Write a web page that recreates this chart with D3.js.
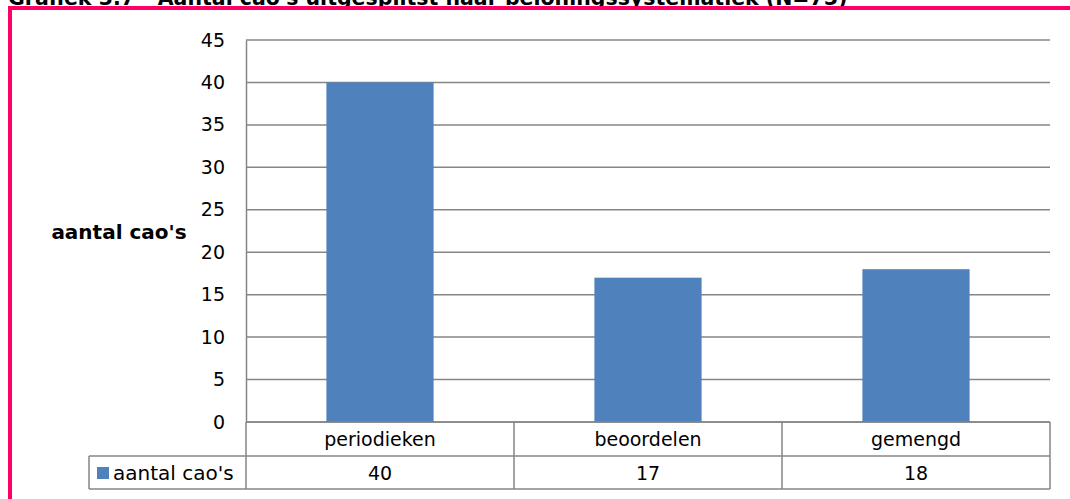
<!DOCTYPE html>
<html><head><meta charset="utf-8">
<script src="https://cdn.jsdelivr.net/npm/d3@7"></script>
<style>body{margin:0;background:#fff;}svg{display:block;}</style>
</head><body>
<script>
const categories = ["periodieken", "beoordelen", "gemengd"];
const seriesName = "aantal cao's";
const values = [40, 17, 18];
const yTicks = [0, 5, 10, 15, 20, 25, 30, 35, 40, 45];
const title = "Grafiek 3.7 - Aantal cao's uitgesplitst naar beloningssystematiek (N=75)";

const W = 1070, H = 499;
const svg = d3.select("body").append("svg").attr("width", W).attr("height", H);
const font = "DejaVu Sans, Verdana, sans-serif";

// title (cut off at top, as in the reference)
svg.append("text").attr("x", 8).attr("y", 4.5).attr("font-family", font)
  .attr("font-weight", "bold").attr("font-size", 20.5).attr("fill", "#000").text(title);

// magenta frame
svg.append("rect").attr("x", 8).attr("y", 6).attr("width", W - 8).attr("height", 4).attr("fill", "#FF0066");
svg.append("rect").attr("x", 8).attr("y", 6).attr("width", 4).attr("height", H - 6).attr("fill", "#FF0066");

const pLeft = 246, pRight = 1050, pTop = 40, pBottom = 422;
const x = d3.scaleBand().domain(categories).range([pLeft, pRight]).paddingInner(0.6).paddingOuter(0.3);
const y = d3.scaleLinear().domain([0, 45]).range([pBottom, pTop]);

const grid = "#868686";
// gridlines
svg.append("g").selectAll("line").data(yTicks).join("line")
  .attr("x1", pLeft).attr("x2", pRight).attr("y1", d => y(d)).attr("y2", d => y(d))
  .attr("stroke", grid).attr("stroke-width", 1.5);

// bars
svg.append("g").selectAll("rect").data(values).join("rect")
  .attr("x", (d, i) => x(categories[i])).attr("width", x.bandwidth())
  .attr("y", d => y(d)).attr("height", d => y(0) - y(d))
  .attr("fill", "#4F81BD");

// y axis
const yAxis = d3.axisLeft(y).tickValues(yTicks).tickSize(0).tickPadding(21);
const ga = svg.append("g").attr("transform", `translate(${pLeft},0)`).call(yAxis);
ga.select(".domain").attr("stroke", grid).attr("stroke-width", 1.5);
ga.selectAll("text").attr("font-family", font).attr("font-size", 19).attr("fill", "#000");

// y label
svg.append("text").attr("x", 119).attr("y", 239).attr("text-anchor", "middle")
  .attr("font-family", font).attr("font-weight", "bold").attr("font-size", 20).text(seriesName);

// data table
const rowTop = pBottom, rowMid = 456, rowBot = 489, tableLeft = 89;
const cols = [pLeft].concat(categories.map(c => x(c) + x.bandwidth() / 2 + x.step() / 2));
const tg = svg.append("g").attr("stroke", grid).attr("stroke-width", 1.5).attr("fill", "none");
tg.append("line").attr("x1", pLeft).attr("x2", pRight).attr("y1", rowTop).attr("y2", rowTop);
tg.append("line").attr("x1", tableLeft).attr("x2", pRight).attr("y1", rowMid).attr("y2", rowMid);
tg.append("line").attr("x1", tableLeft).attr("x2", pRight).attr("y1", rowBot).attr("y2", rowBot);
tg.selectAll("line.v").data(cols).join("line").attr("class", "v")
  .attr("x1", d => d).attr("x2", d => d).attr("y1", rowTop).attr("y2", rowBot);
tg.append("line").attr("x1", tableLeft).attr("x2", tableLeft).attr("y1", rowMid).attr("y2", rowBot);

// category labels
svg.append("g").selectAll("text").data(categories).join("text")
  .attr("x", d => x(d) + x.bandwidth() / 2).attr("y", 446).attr("text-anchor", "middle")
  .attr("font-family", font).attr("font-size", 19).attr("fill", "#000").text(d => d);
// values
svg.append("g").selectAll("text").data(values).join("text")
  .attr("x", (d, i) => x(categories[i]) + x.bandwidth() / 2).attr("y", 480).attr("text-anchor", "middle")
  .attr("font-family", font).attr("font-size", 19).attr("fill", "#000").text(d => d);
// legend key
svg.append("rect").attr("x", 97).attr("y", 467).attr("width", 12).attr("height", 12).attr("fill", "#4F81BD");
svg.append("text").attr("x", 113).attr("y", 480).attr("font-family", font).attr("font-size", 20)
  .attr("fill", "#000").text(seriesName);
</script>
</body></html>
